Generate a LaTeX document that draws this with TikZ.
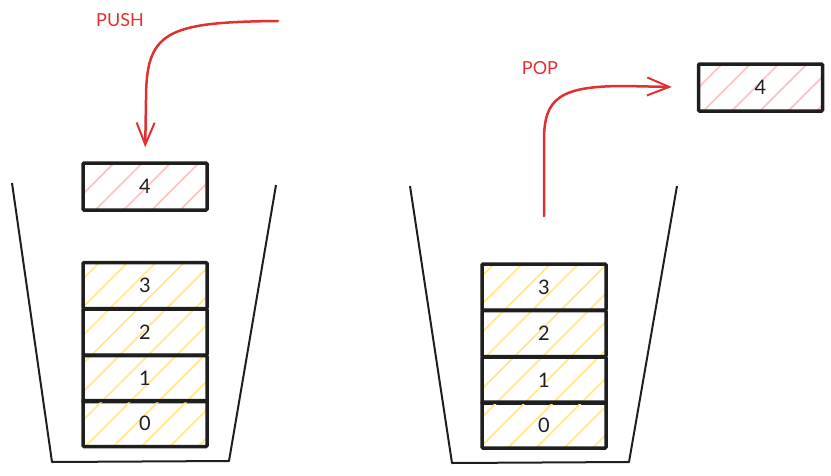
\documentclass[tikz,border=0pt]{standalone}
\usepackage{fontspec}
\setmainfont{Lato}
\usetikzlibrary{patterns.meta,arrows.meta}
\definecolor{ink}{HTML}{1E1E1E}
\definecolor{redink}{HTML}{E03131}
\definecolor{yhatch}{HTML}{FFE98C}
\definecolor{rhatch}{HTML}{FFC4C4}
\begin{document}
\begin{tikzpicture}[x=1pt,y=-1pt,
  cell/.style={draw=ink,line width=3.5pt,rounded corners=1pt,minimum width=124pt,minimum height=46pt,inner sep=0pt,font=\fontsize{20}{23}\selectfont\color{ink}},
  ycell/.style={cell,pattern={Lines[angle=45,distance=20pt,line width=1.8pt]},pattern color=yhatch},
  rcell/.style={cell,minimum height=47pt,pattern={Lines[angle=45,distance=20pt,line width=1.8pt]},pattern color=rhatch},
  bucket/.style={draw=ink,line width=2pt,line join=round},
  flow/.style={draw=redink,line width=2.5pt,line cap=round,-{Straight Barb[length=22pt,width=18pt,line width=2pt]}},
  lbl/.style={text=redink,font=\fontsize{18}{21}\selectfont}]
\useasboundingbox (0,0) rectangle (831,475);
% buckets
\draw[bucket] (12,183) -- (52,462) -- (229,461) -- (276,185);
\draw[bucket] (410,186) -- (452,463) -- (629,462) -- (677,186);
% left stack
\node[ycell] (l3) at (145,285.5) {3};
\node[ycell] (l2) at (145,332) {2};
\node[ycell] (l1) at (145,378.5) {1};
\node[ycell] (l0) at (145,423.5) {0};
\node[rcell] (push4) at (145,186.5) {4};
% right stack
\node[ycell] (r3) at (544,287) {3};
\node[ycell] (r2) at (544,333.5) {2};
\node[ycell] (r1) at (544,380) {1};
\node[ycell] (r0) at (544,425) {0};
\node[rcell] (pop4) at (760.5,87.5) {4};
% labels
\node[lbl] (pushlbl) at (120,20) {PUSH};
\node[lbl] (poplbl) at (540,68) {POP};
% arrows
\coordinate (pushStart) at (278,21);
\coordinate (popStart) at (544,216);
\draw[flow,shorten >=14pt] (pushStart) .. controls (165,22) and (146,32) .. (146,100) -- (push4.north);
\draw[flow,shorten >=25pt] (popStart) -- (544,140) .. controls (544,98) and (560,86) .. (625,86) -- (pop4.west);
\end{tikzpicture}
\end{document}
